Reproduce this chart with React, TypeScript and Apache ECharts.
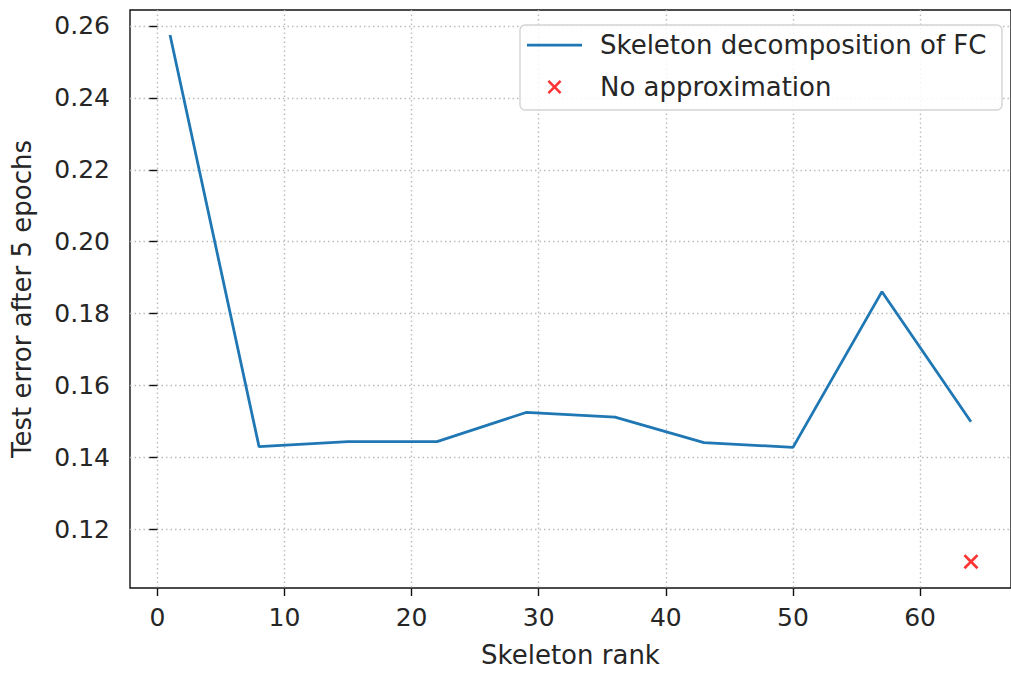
import React, { useEffect, useRef } from "react";
import * as echarts from "echarts";

const ranks = [1, 8, 15, 22, 29, 36, 43, 50, 57, 64];
const testErrors = [0.2575, 0.1430, 0.1444, 0.1444, 0.1525, 0.1512, 0.1441, 0.1428, 0.1861, 0.1499];
const noApproxRank = [64];
const noApproxError = [0.1110];
const xTicks = [0, 10, 20, 30, 40, 50, 60];
const yTicks = [0.12, 0.14, 0.16, 0.18, 0.2, 0.22, 0.24, 0.26];

const lineName = "Skeleton decomposition of FC";
const scatterName = "No approximation";

const X_PATH =
  "path://M0,13L13,0L50,37L87,0L100,13L63,50L100,87L87,100L50,63L13,100L0,87L37,50Z";
const LINE_PATH = "path://M0,0L110,0L110,5.5L0,5.5Z";

const FONT = "DejaVu Sans";
const TXT = "#262626";

export default function App() {
  const ref = useRef<HTMLDivElement>(null);
  useEffect(() => {
    if (!ref.current) return;
    const chart = echarts.init(ref.current, undefined, { renderer: "svg" });
    chart.setOption({
      animation: false,
      backgroundColor: "#ffffff",
      grid: {
        left: 130,
        top: 10,
        width: 889,
        height: 578,
        show: true,
        borderColor: "#111",
        borderWidth: 1.4,
        backgroundColor: "transparent",
      },
      xAxis: {
        type: "value",
        min: -2.15,
        max: 67.15,
        minInterval: 10,
        maxInterval: 10,
        name: "Skeleton rank",
        nameLocation: "middle",
        nameGap: 54,
        nameTextStyle: { fontFamily: FONT, fontSize: 26, color: TXT },
        axisLine: { show: false },
        axisTick: {
          show: true,
          inside: false,
          length: 8,
          customValues: xTicks,
          lineStyle: { color: "#111", width: 1.4 },
        },
        axisLabel: {
          customValues: xTicks,
          margin: 17,
          fontFamily: FONT,
          fontSize: 25,
          color: TXT,
        },
        splitLine: {
          show: true,
          lineStyle: { color: "#bcbcbc", width: 1.4, type: [1.5, 3] },
        },
      },
      yAxis: {
        type: "value",
        min: 0.10367,
        max: 0.26445,
        minInterval: 0.02,
        maxInterval: 0.02,
        name: "Test error after 5 epochs",
        nameLocation: "middle",
        nameGap: 95,
        nameTextStyle: { fontFamily: FONT, fontSize: 26, color: TXT },
        axisLine: { show: false },
        axisTick: {
          show: true,
          inside: false,
          length: 8,
          customValues: yTicks,
          lineStyle: { color: "#111", width: 1.4 },
        },
        axisLabel: {
          customValues: yTicks,
          margin: 20,
          fontFamily: FONT,
          fontSize: 25,
          color: TXT,
          formatter: (v: number) => v.toFixed(2),
        },
        splitLine: {
          show: true,
          lineStyle: { color: "#bcbcbc", width: 1.4, type: [1.5, 3] },
        },
      },
      legend: {
        orient: "vertical",
        left: 527,
        top: 31,
        padding: 0,
        itemWidth: 55,
        itemHeight: 14,
        itemGap: 14,
        textStyle: {
          fontFamily: FONT,
          fontSize: 26,
          color: TXT,
          lineHeight: 28,
          padding: [0, 0, 0, 13],
        },
        data: [
          { name: lineName, icon: LINE_PATH, itemStyle: { color: "#1f77b4" } },
          { name: scatterName, icon: X_PATH, itemStyle: { color: "#ff0000" } },
        ],
        z: 5,
      },
      graphic: [
        {
          type: "rect",
          z: 3,
          shape: { x: 520, y: 25, width: 482, height: 85, r: 5 },
          style: { fill: "rgba(255,255,255,0.85)", stroke: "#d4d4d4", lineWidth: 1.4 },
        },
      ],
      series: [
        {
          name: lineName,
          type: "line",
          data: ranks.map((r, i) => [r, testErrors[i]]),
          symbol: "none",
          lineStyle: { color: "#1f77b4", width: 2.8 },
          itemStyle: { color: "#1f77b4" },
          z: 2,
        },
        {
          name: scatterName,
          type: "scatter",
          data: noApproxRank.map((r, i) => [r, noApproxError[i]]),
          symbol: X_PATH,
          symbolSize: 15,
          itemStyle: { color: "#ff0000" },
          z: 2,
        },
      ],
    });
    return () => chart.dispose();
  }, []);
  return (
    <div
      ref={ref}
      style={{ position: "absolute", left: 0, top: 0, width: 1011, height: 673, overflow: "hidden" }}
    />
  );
}
